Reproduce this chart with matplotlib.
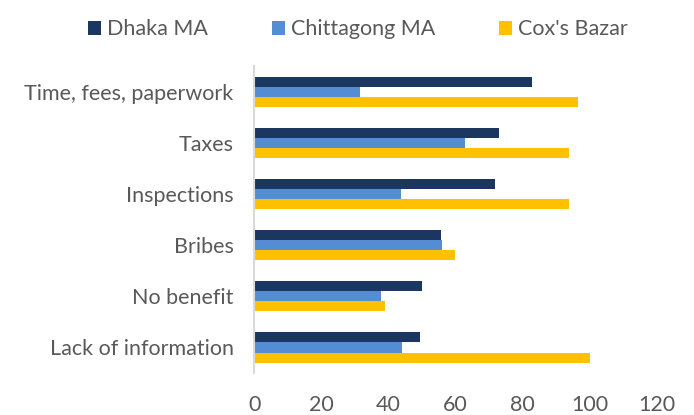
import numpy as np
import matplotlib.pyplot as plt

categories = ['Time, fees, paperwork', 'Taxes', 'Inspections', 'Bribes',
              'No benefit', 'Lack of information']
series = ['Dhaka MA', 'Chittagong MA', "Cox's Bazar"]
dhaka = [82.8, 73.0, 71.6, 55.7, 50.0, 49.3]
chittagong = [31.4, 62.7, 43.7, 56.0, 37.6, 44.1]
coxs_bazar = [96.4, 93.9, 93.9, 59.7, 38.8, 100.0]
colors = ['#1B365F', '#548DD4', '#FFC000']
xticks = [0, 20, 40, 60, 80, 100, 120]

plt.rcParams['font.family'] = ['Lato', 'DejaVu Sans']

fig = plt.figure(figsize=(6.94, 4.15), dpi=100)
ax = fig.add_axes([0.3667, 0.101, 0.58, 0.740])

y = np.arange(len(categories))
h = 0.196
for k, (vals, name) in enumerate(zip([dhaka, chittagong, coxs_bazar], series)):
    ax.barh(y + (k - 1) * h, vals, height=h, color=colors[k], label=name)

ax.set_ylim(len(categories) - 0.5, -0.5)
ax.set_xlim(0, 120)
ax.set_xticks(xticks)
ax.set_yticks(y)
ax.set_yticklabels(categories)
for s in ['top', 'right', 'bottom']:
    ax.spines[s].set_visible(False)
ax.spines['left'].set_color('#D9D9D9')
ax.spines['left'].set_linewidth(1.5)
ax.tick_params(axis='both', length=0, colors='#595959', labelsize=15.5)
ax.tick_params(axis='y', pad=15)
ax.tick_params(axis='x', pad=16)

fig.legend(loc='upper center', bbox_to_anchor=(0.516, 1.0), ncol=3, frameon=False,
           fontsize=15.5, labelcolor='#595959', handlelength=0.6, handleheight=0.6,
           handletextpad=0.3, columnspacing=2.95)

fig.savefig('out.png', dpi=100)
